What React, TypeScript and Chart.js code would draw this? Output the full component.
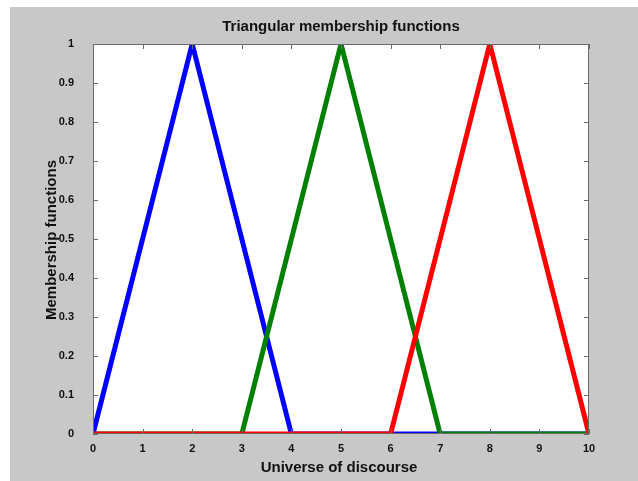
import React, { useEffect, useRef } from "react";
import { Chart, registerables } from "chart.js";

Chart.register(...registerables);

const chartTitle = "Triangular membership functions";
const xTitle = "Universe of discourse";
const yTitle = "Membership functions";

const blueX = [0, 2, 4, 10];
const blueY = [0, 1, 0, 0];
const greenX = [0, 3, 5, 7, 10];
const greenY = [0, 0, 1, 0, 0];
const redX = [0, 6, 8, 10];
const redY = [0, 0, 1, 0];

const xTicks = [0, 1, 2, 3, 4, 5, 6, 7, 8, 9, 10];
const yTicks = [0, 0.1, 0.2, 0.3, 0.4, 0.5, 0.6, 0.7, 0.8, 0.9, 1];

const toPts = (xs: number[], ys: number[]) => xs.map((x, i) => ({ x, y: ys[i] }));

const FONT = "'Liberation Sans', Arial, sans-serif";

const framePlugin = {
  id: "frame",
  afterDatasetsDraw(chart: any) {
    const { ctx, chartArea: a, scales } = chart;
    ctx.save();
    ctx.strokeStyle = "#6a6a6a";
    ctx.lineWidth = 1;
    ctx.beginPath();
    ctx.rect(a.left + 0.5, a.top + 0.5, a.right - a.left - 1, a.bottom - a.top - 1);
    ctx.stroke();
    const tl = 5;
    ctx.beginPath();
    xTicks.forEach((v) => {
      const px = Math.round(scales.x.getPixelForValue(v)) + 0.5;
      ctx.moveTo(px, a.bottom);
      ctx.lineTo(px, a.bottom - tl);
      ctx.moveTo(px, a.top);
      ctx.lineTo(px, a.top + tl);
    });
    yTicks.forEach((v) => {
      const py = Math.round(scales.y.getPixelForValue(v)) + 0.5;
      ctx.moveTo(a.left, py);
      ctx.lineTo(a.left + tl, py);
      ctx.moveTo(a.right, py);
      ctx.lineTo(a.right - tl, py);
    });
    ctx.stroke();
    ctx.restore();
  },
  afterDraw(chart: any) {
    const { ctx, chartArea: a } = chart;
    const cx = (a.left + a.right) / 2;
    ctx.save();
    ctx.fillStyle = "#111";
    ctx.textAlign = "center";
    ctx.textBaseline = "middle";
    ctx.font = `bold 15px ${FONT}`;
    ctx.fillText(chartTitle, cx, 20);
    ctx.fillText(xTitle, cx - 2, 461);
    ctx.translate(42, 233);
    ctx.rotate(-Math.PI / 2);
    ctx.fillText(yTitle, 0, 0);
    ctx.restore();
  },
};

export default function App() {
  const ref = useRef<HTMLCanvasElement>(null);
  useEffect(() => {
    if (!ref.current) return;
    const mk = (label: string, xs: number[], ys: number[], color: string, order: number) => ({
      label,
      data: toPts(xs, ys),
      borderColor: color,
      backgroundColor: color,
      borderWidth: 5,
      pointRadius: 0,
      showLine: true,
      tension: 0,
      clip: 0,
      order,
      borderJoinStyle: "miter" as const,
    });
    const chart = new Chart(ref.current, {
      type: "scatter",
      data: {
        datasets: [
          mk("blue", blueX, blueY, "#0000ff", 3),
          mk("green", greenX, greenY, "#008000", 2),
          mk("red", redX, redY, "#ff0000", 1),
        ],
      },
      options: {
        animation: false,
        responsive: false,
        devicePixelRatio: 1,
        layout: { padding: { top: 37, left: 0, right: 49, bottom: 0 } },
        plugins: { legend: { display: false }, title: { display: false }, tooltip: { enabled: false } },
        scales: {
          x: {
            type: "linear",
            min: 0,
            max: 10,
            grid: { display: false },
            border: { display: false },
            afterFit: (s: any) => { s.height = 47; },
            afterBuildTicks: (s: any) => { s.ticks = xTicks.map((v) => ({ value: v })); },
            ticks: {
              padding: 0,
              color: "#111",
              font: { family: FONT, weight: "bold", size: 11 },
              callback: (v: any) => String(v),
              maxRotation: 0,
              autoSkip: false,
            },
          },
          y: {
            type: "linear",
            min: 0,
            max: 1,
            grid: { display: false },
            border: { display: false },
            afterFit: (s: any) => { s.width = 83; },
            afterBuildTicks: (s: any) => { s.ticks = yTicks.map((v) => ({ value: v })); },
            ticks: {
              padding: 11,
              color: "#111",
              font: { family: FONT, weight: "bold", size: 11 },
              callback: (v: any) => String(Math.round(v * 10) / 10),
              autoSkip: false,
            },
          },
        },
      },
      plugins: [framePlugin],
    });
    return () => chart.destroy();
  }, []);
  return (
    <div style={{ position: "absolute", left: 0, top: 0, width: 638, height: 481, background: "#fff" }}>
      <div style={{ position: "absolute", left: 10, top: 7, width: 628, height: 474, background: "#c8c8c8" }}>
        <div style={{ position: "absolute", left: 83, top: 37, width: 496, height: 390, background: "#fff" }} />
        <canvas ref={ref} width={628} height={474} style={{ position: "absolute", left: 0, top: 0, width: 628, height: 474 }} />
      </div>
    </div>
  );
}
